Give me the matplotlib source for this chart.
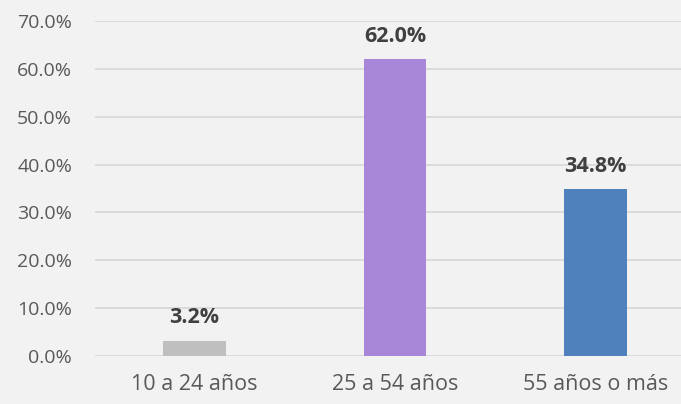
import matplotlib
matplotlib.use("Agg")
import matplotlib.pyplot as plt
from matplotlib.ticker import FuncFormatter

categories = ["10 a 24 años", "25 a 54 años", "55 años o más"]
values = [3.2, 62.0, 34.8]
colors = ["#BFBFBF", "#A886D8", "#4F81BD"]
yticks = [0, 10, 20, 30, 40, 50, 60, 70]

plt.rcParams['font.family'] = ['Open Sans', 'DejaVu Sans']

fig = plt.figure(figsize=(6.81, 4.04), dpi=100)
fig.patch.set_facecolor("#F2F2F2")
ax = fig.add_axes([95/681, (404-356)/404, 1 - 95/681, (356-21)/404])
ax.set_facecolor("#F2F2F2")

x = list(range(len(categories)))
ax.bar(x, values, width=0.313, color=colors, zorder=3)
for xi, v in zip(x, values):
    ax.annotate(f"{v:.1f}%", (xi, v), xytext=(0, 12.5), textcoords="offset points",
                ha="center", va="baseline", fontsize=15.5, fontweight="bold", color="#404040")

ax.set_ylim(0, 70)
ax.set_xlim(-0.496, 2.426)
ax.set_yticks(yticks)
ax.yaxis.set_major_formatter(FuncFormatter(lambda v, p: f"{v:.1f}%"))
ax.set_xticks(x)
ax.set_xticklabels(categories)
ax.tick_params(axis="y", length=0, labelsize=14, labelcolor="#595959", pad=16.5)
ax.tick_params(axis="x", length=0, labelsize=15.5, labelcolor="#595959", pad=13)
ax.grid(axis="y", color="#D9D9D9", linewidth=1.3, zorder=0)
for s in ax.spines.values():
    s.set_visible(False)

fig.savefig("out.png", dpi=100, facecolor=fig.get_facecolor())
